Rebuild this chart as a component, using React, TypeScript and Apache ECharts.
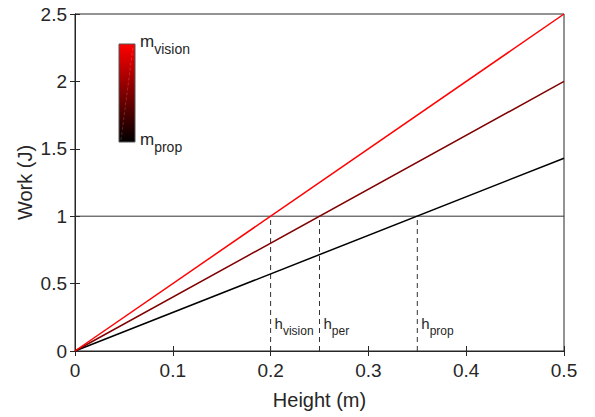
import React, { useEffect, useRef } from "react";
import * as echarts from "echarts";

const heights = [0, 0.5];
const workVision = [0, 2.5];
const workPer = [0, 2.0];
const workProp = [0, 1.43];
const thresholdWork = 1;
const crossHeights = [0.2, 0.25, 0.35];
const crossSubs = ["vision", "per", "prop"];
const xTicks = [0, 0.1, 0.2, 0.3, 0.4, 0.5];
const yTicks = [0, 0.5, 1, 1.5, 2, 2.5];

const FONT = "Liberation Sans, Arial, sans-serif";
const TXT = "#262626";

export default function App() {
  const ref = useRef<HTMLDivElement>(null);
  useEffect(() => {
    if (!ref.current) return;
    const chart = echarts.init(ref.current, null, { renderer: "svg" });
    const pair = (ys: number[]) => heights.map((h, i) => [h, ys[i]]);
    const axisCommon = {
      min: 0,
      axisLine: { show: true, lineStyle: { color: TXT, width: 1 } },
      axisTick: { show: true, inside: true, length: 5, lineStyle: { color: TXT } },
      splitLine: { show: false },
    };
    const series: any[] = [
      {
        type: "line",
        data: pair(workProp),
        symbol: "none",
        lineStyle: { color: "#000000", width: 1.5 },
      },
      {
        type: "line",
        data: pair(workPer),
        symbol: "none",
        lineStyle: { color: "#800000", width: 1.5 },
      },
      {
        type: "line",
        data: pair(workVision),
        symbol: "none",
        lineStyle: { color: "#ff0000", width: 1.5 },
      },
      {
        type: "line",
        data: [
          [xTicks[0], thresholdWork],
          [xTicks[xTicks.length - 1], thresholdWork],
        ],
        symbol: "none",
        lineStyle: { color: "#333333", width: 1 },
        z: 1,
      },
      ...crossHeights.map((h) => ({
        type: "line",
        data: [
          [h, 0],
          [h, thresholdWork],
        ],
        symbol: "none",
        lineStyle: { color: "#333333", width: 1, type: [5, 4] },
        z: 1,
      })),
    ];
    chart.setOption({
      animation: false,
      grid: { left: 75, right: 31, top: 14, bottom: 66, show: true, borderColor: TXT, borderWidth: 1 },
      xAxis: [
        {
          ...axisCommon,
          type: "value",
          max: xTicks[xTicks.length - 1],
          interval: 0.1,
          position: "bottom",
          name: "Height (m)",
          nameLocation: "middle",
          nameMoveOverlap: false,
          nameGap: 39,
          nameTextStyle: { fontFamily: FONT, fontSize: 20, color: TXT },
          axisLabel: { fontFamily: FONT, fontSize: 19, color: TXT, margin: 10 },
        },
        {
          ...axisCommon,
          type: "value",
          max: xTicks[xTicks.length - 1],
          interval: 0.1,
          position: "top",
          axisLabel: { show: false },
        },
      ],
      yAxis: [
        {
          ...axisCommon,
          type: "value",
          max: yTicks[yTicks.length - 1],
          interval: 0.5,
          position: "left",
          name: "Work (J)",
          nameLocation: "middle",
          nameMoveOverlap: false,
          nameGap: 40,
          nameTextStyle: { fontFamily: FONT, fontSize: 20, color: TXT },
          axisLabel: { fontFamily: FONT, fontSize: 19, color: TXT, margin: 8 },
        },
        {
          ...axisCommon,
          type: "value",
          max: yTicks[yTicks.length - 1],
          interval: 0.5,
          position: "right",
          axisLabel: { show: false },
        },
      ],
      series,
    });

    const hLabels = crossHeights.map((h, i) => {
      const p = chart.convertToPixel({ gridIndex: 0 }, [h, 0]) as number[];
      return {
        type: "text",
        x: p[0] + 4,
        y: 316,
        style: {
          text: "{a|h}{b|" + crossSubs[i] + "}",
          fontFamily: FONT,
          fill: TXT,
          rich: {
            a: { fontSize: 15, lineHeight: 15, verticalAlign: "top", fontFamily: FONT, fill: TXT },
            b: { fontSize: 12, lineHeight: 12, verticalAlign: "top", padding: [9, 0, 0, 0], fontFamily: FONT, fill: TXT },
          },
        },
        z: 10,
      };
    });

    const mLabel = (y: number, sub: string) => ({
      type: "text",
      x: 140,
      y,
      style: {
        text: "{a|m}{b|" + sub + "}",
        fontFamily: FONT,
        fill: TXT,
        rich: {
          a: { fontSize: 17, lineHeight: 17, verticalAlign: "top", fontFamily: FONT, fill: TXT },
          b: { fontSize: 14, lineHeight: 14, verticalAlign: "top", padding: [9, 0, 0, 0], fontFamily: FONT, fill: TXT },
        },
      },
      z: 10,
    });

    chart.setOption({
      graphic: [
        {
          type: "rect",
          shape: { x: 119, y: 44, width: 16, height: 98 },
          style: {
            fill: new echarts.graphic.LinearGradient(0, 0, 0, 1, [
              { offset: 0, color: "#ff0000" },
              { offset: 1, color: "#000000" },
            ]),
            stroke: "#555555",
            lineWidth: 1,
          },
          z: 10,
        },
        {
          type: "line",
          shape: { x1: 121, y1: 140, x2: 133, y2: 47 },
          style: { stroke: "rgba(255,200,200,0.35)", lineWidth: 0.6, lineDash: [3, 2] },
          z: 11,
        },
        mLabel(33, "vision"),
        mLabel(131, "prop"),
        ...hLabels,
      ],
    });
    return () => chart.dispose();
  }, []);
  return (
    <div
      ref={ref}
      style={{ position: "fixed", left: 0, top: 0, width: 595, height: 417, background: "#fff" }}
    />
  );
}
